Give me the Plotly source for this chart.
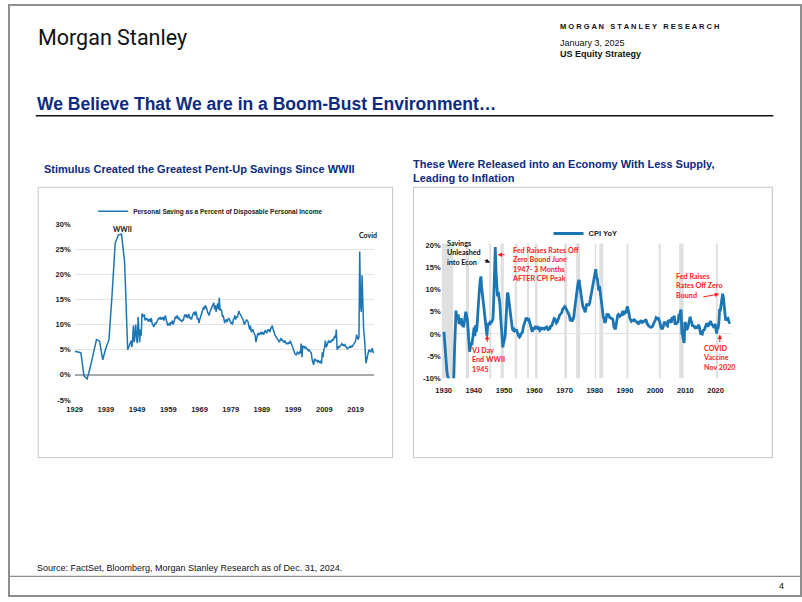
import pandas as pd
import plotly.graph_objects as go

# ---------------- data ----------------
saving_annual_years = list(range(1929, 1947))
saving_annual = [4.7, 4.5, 4.4, -0.2, -0.8, 1.5, 4.5, 7.0, 6.7, 3.0, 5.3, 7.0,
                 16.0, 26.2, 27.8, 28.0, 22.5, 5.0]

saving_q_start = "1947-02-01"
saving_quarterly = [
    6.8, 5.5, 7.0, 9.8,    # 1947
    6.5, 8.5, 10.0, 7.0,   # 1948
    6.3, 11.5, 7.5, 6.5,   # 1949
    9.0, 7.8, 12.2, 11.5,  # 1950
    11.8, 12.0, 10.8, 11.3,
    10.9, 11.2, 10.6, 11.0,
    11.1, 10.5, 11.3, 10.2,
    10.0, 9.5, 9.8, 10.3,
    10.2, 10.6, 10.8, 11.2,  # 1955
    11.3, 11.0, 11.5, 11.0,
    11.2, 11.5, 10.8, 11.6,
    11.8, 11.0, 10.5, 9.8,
    10.0, 10.3, 9.8, 10.5,
    10.2, 10.8, 10.0, 10.4,  # 1960
    11.0, 11.6, 11.2, 11.8,
    11.5, 11.0, 11.3, 10.8,
    10.8, 10.5, 11.0, 10.8,
    11.6, 12.0, 11.5, 12.0,
    11.3, 11.8, 12.1, 11.2,  # 1965
    11.5, 11.0, 11.3, 12.0,
    12.2, 12.5, 11.8, 12.6,
    12.0, 11.0, 11.3, 10.3,
    11.0, 11.5, 12.0, 12.3,
    12.8, 13.5, 13.0, 13.8,  # 1970
    13.5, 13.2, 12.5, 12.0,
    11.8, 12.5, 13.0, 13.2,
    13.5, 14.0, 14.3, 13.0,
    13.8, 12.5, 13.5, 14.2,
    13.0, 15.3, 12.8, 13.0,  # 1975
    12.8, 11.5, 11.8, 11.0,
    10.3, 10.8, 11.0, 10.5,
    10.8, 11.3, 11.0, 10.4,
    10.2, 10.5, 10.0, 11.0,
    11.2, 11.8, 11.0, 11.5,  # 1980
    11.5, 11.8, 12.7, 12.3,
    12.0, 11.8, 11.5, 11.0,
    10.8, 10.0, 10.2, 10.6,
    11.0, 10.8, 10.5, 9.6,
    9.0, 9.8, 8.5, 8.8,      # 1985
    9.0, 8.5, 8.0, 7.8,
    6.5, 7.5, 8.0, 8.3,
    8.0, 8.2, 8.5, 8.0,
    8.5, 8.2, 8.0, 8.6,
    8.8, 8.5, 8.3, 9.0,      # 1990
    8.8, 9.0, 8.5, 9.2,
    9.5, 9.8, 9.0, 8.7,
    8.0, 7.8, 7.4, 7.2,
    7.0, 6.8, 6.5, 7.0,
    7.3, 6.8, 7.0, 6.6,      # 1995
    6.5, 6.8, 6.4, 6.2,
    6.3, 6.1, 6.5, 6.2,
    6.8, 6.3, 5.8, 5.5,
    5.0, 4.5, 4.2, 4.0,
    4.0, 4.5, 4.3, 4.2,      # 2000
    4.5, 4.3, 6.2, 3.5,
    5.8, 5.5, 5.6, 5.3,
    5.5, 5.2, 5.0, 4.8,
    5.0, 4.8, 4.6, 4.3,
    3.0, 2.5, 2.0, 3.2,      # 2005
    3.0, 2.8, 2.9, 2.6,
    2.8, 2.5, 2.4, 2.8,
    2.2, 4.5, 3.5, 5.0,
    5.5, 6.8, 5.5, 5.8,
    6.3, 6.8, 6.5, 6.7,      # 2010
    6.5, 6.8, 7.0, 6.8,
    7.5, 7.8, 7.3, 9.0,
    5.0, 5.4, 5.6, 5.5,
    5.8, 6.0, 6.2, 5.9,
    6.0, 5.8, 6.0, 5.7,      # 2015
    5.5, 5.2, 5.3, 5.6,
    5.6, 5.4, 5.8, 5.5,
    5.9, 6.0, 6.3, 6.5,
    7.0, 8.0, 7.3, 7.0,
    7.5, 24.5, 14.0, 12.5,   # 2020
    19.8, 11.0, 9.0, 7.5,
    5.0, 2.3, 3.0, 3.5,
    4.5, 5.0, 4.7, 4.5,
    4.8, 5.3, 4.6, 4.3,      # 2024
]

cpi_q_start = "1930-02-01"
cpi_yoy = [
    0.5, -2.0, -4.5, -6.5,      # 1930
    -8.5, -9.5, -10.5, -10.5,
    -10.5, -10.5, -10.5, -10.5,
    -10.5, -10.5, -4.0, 1.0,
    5.3, 3.3, 3.8, 4.4,
    2.2, 3.5, 2.5, 3.6,         # 1935
    1.8, 2.6, 1.5, 3.0,
    3.7, 5.0, 4.2, 3.3,
    1.0, -1.5, -4.0, -3.0,
    -2.0, -2.5, -1.0, 0.5,
    1.5, -0.5, 2.0, 0.5,        # 1940
    2.0, 5.0, 8.5, 10.0,
    12.0, 13.0, 10.5, 9.0,
    8.0, 7.0, 5.0, 3.5,
    2.0, -0.4, 2.0, 2.5,
    2.5, 2.0, 3.0, 2.5,         # 1945
    3.0, 3.5, 8.0, 17.0,
    19.6, 14.0, 9.3, 8.5,
    9.5, 8.5, 7.0, 4.0,
    1.0, -1.0, -3.0, -2.0,
    -1.0, -0.5, 2.5, 7.0,       # 1950
    9.3, 9.0, 7.5, 6.5,
    4.3, 2.5, 2.0, 1.0,
    0.8, 1.0, 0.7, 0.8,
    1.0, 0.5, -0.3, -0.5,
    -0.7, -0.5, 0.0, 0.4,       # 1955
    0.4, 1.5, 2.0, 2.9,
    3.5, 3.7, 3.4, 3.0,
    3.6, 3.0, 2.2, 2.0,
    1.0, 0.5, 1.0, 1.5,
    1.0, 1.8, 1.5, 1.4,         # 1960
    1.5, 1.0, 1.2, 0.8,
    1.0, 1.3, 1.2, 1.3,
    1.2, 1.1, 1.4, 1.6,
    1.6, 1.2, 1.0, 1.2,
    1.0, 1.7, 1.8, 1.9,         # 1965
    2.5, 2.9, 3.5, 3.4,
    3.0, 2.5, 2.7, 3.0,
    3.6, 4.2, 4.4, 4.6,
    4.8, 5.5, 5.7, 6.0,
    6.2, 6.0, 5.6, 5.6,         # 1970
    5.0, 4.4, 4.2, 3.3,
    3.4, 3.0, 3.0, 3.3,
    3.9, 5.5, 7.2, 8.4,
    10.0, 10.7, 11.8, 12.2,
    10.8, 9.3, 8.0, 7.2,        # 1975
    6.2, 5.9, 5.5, 4.9,
    5.6, 6.8, 6.6, 6.6,
    6.6, 7.0, 8.0, 8.9,
    9.8, 10.8, 12.0, 13.0,
    14.0, 14.6, 13.0, 12.5,     # 1980
    11.2, 9.8, 10.8, 9.2,
    7.5, 6.8, 5.5, 3.8,
    3.5, 2.5, 2.8, 3.8,
    4.6, 4.2, 4.3, 4.0,
    3.5, 3.8, 3.3, 3.6,         # 1985
    3.0, 1.6, 1.2, 1.1,
    2.0, 3.7, 4.2, 4.4,
    4.0, 4.0, 4.2, 4.3,
    4.8, 5.2, 4.5, 4.6,
    5.2, 4.7, 5.7, 6.2,         # 1990
    5.3, 4.8, 3.6, 3.0,
    2.9, 3.1, 3.0, 3.0,
    3.2, 3.0, 2.8, 2.8,
    2.5, 2.4, 2.9, 2.6,
    2.8, 3.1, 2.6, 2.6,         # 1995
    2.8, 2.9, 2.9, 3.3,
    3.0, 2.3, 2.2, 1.8,
    1.6, 1.6, 1.5, 1.6,
    1.7, 2.1, 2.4, 2.7,
    3.2, 3.7, 3.5, 3.4,         # 2000
    3.5, 3.2, 2.6, 1.6,
    1.3, 1.1, 1.5, 2.3,
    2.8, 2.1, 2.3, 1.9,
    1.8, 3.1, 2.7, 3.3,
    3.0, 2.5, 3.8, 3.4,         # 2005
    3.6, 4.1, 2.1, 2.5,
    2.4, 2.7, 2.8, 4.1,
    4.0, 5.0, 5.5, 0.1,
    -0.2, -1.3, -2.0, 2.7,
    2.3, 1.1, 1.1, 1.5,         # 2010
    2.7, 3.6, 3.9, 3.0,
    2.7, 1.7, 2.0, 1.7,
    1.5, 1.8, 1.2, 1.5,
    1.5, 2.1, 1.7, 0.8,
    -0.1, 0.1, 0.0, 0.7,        # 2015
    0.9, 1.0, 1.5, 2.1,
    2.4, 1.6, 2.2, 2.1,
    2.4, 2.9, 2.3, 1.9,
    1.9, 1.6, 1.7, 2.3,
    1.5, 0.1, 1.4, 1.4,         # 2020
    2.6, 5.4, 5.4, 7.0,
    8.5, 9.1, 8.2, 6.5,
    5.0, 3.0, 3.7, 3.4,
    3.5, 3.0, 2.4, 2.7,         # 2024
]

recession_start = ["1929-05-01", "1937-05-01", "1945-02-01", "1948-11-01", "1953-07-01",
                   "1957-08-01", "1960-04-01", "1969-12-01", "1973-11-01", "1980-01-01",
                   "1981-07-01", "1990-07-01", "2001-03-01", "2007-12-01", "2020-02-01"]
recession_end = ["1933-03-01", "1938-06-01", "1945-10-01", "1949-12-01", "1954-05-01",
                 "1958-04-01", "1961-02-01", "1970-11-01", "1975-03-01", "1980-07-01",
                 "1982-11-01", "1991-03-01", "2001-11-01", "2009-06-01", "2020-10-01"]

saving_tick_years = [1929, 1939, 1949, 1959, 1969, 1979, 1989, 1999, 2009, 2019]
cpi_tick_years = [1930, 1940, 1950, 1960, 1970, 1980, 1990, 2000, 2010, 2020]
saving_y_ticks = [-5, 0, 5, 10, 15, 20, 25, 30]
cpi_y_ticks = [-10, -5, 0, 5, 10, 15, 20]

# ---------------- helpers ----------------
W, H = 802, 602
def px(x):
    return x / W
def py(y):
    return 1 - y / H

NAVY = "#0c2b82"
BLUE = "#1c76b4"
RED = "#ff1a1a"
ARIAL = "Liberation Sans, Arial, sans-serif"
CAL = "Lato, Liberation Sans, sans-serif"

saving_dates = [f"{y}-01-01" for y in saving_annual_years] + \
    list(pd.date_range(saving_q_start, periods=len(saving_quarterly), freq="3MS").strftime("%Y-%m-%d"))
saving_values = saving_annual + saving_quarterly
cpi_dates = list(pd.date_range(cpi_q_start, periods=len(cpi_yoy), freq="3MS").strftime("%Y-%m-%d"))

fig = go.Figure()
fig.add_trace(go.Scatter(
    x=saving_dates, y=saving_values, mode="lines",
    name="Personal Saving as a Percent of Disposable Personal Income",
    line=dict(color=BLUE, width=1.5), xaxis="x", yaxis="y", legend="legend"))
fig.add_trace(go.Scatter(
    x=cpi_dates, y=cpi_yoy, mode="lines", name="CPI YoY",
    line=dict(color=BLUE, width=2.8), xaxis="x2", yaxis="y2", legend="legend2"))

tickfont = dict(family=ARIAL, size=7.5, color="#222", weight="bold")

fig.update_layout(
    width=W, height=H, margin=dict(l=0, r=0, t=0, b=0),
    paper_bgcolor="white", plot_bgcolor="rgba(0,0,0,0)",
    showlegend=True,
    xaxis=dict(domain=[px(67.3), px(370)], type="date",
               range=["1929-01-01", "2025-01-01"],
               tickmode="array", tickvals=[f"{y}-01-01" for y in saving_tick_years],
               ticktext=[str(y) for y in saving_tick_years],
               showgrid=False, zeroline=False, showline=False, ticks="",
               tickfont=tickfont, anchor="y", ticklabelstandoff=4),
    yaxis=dict(domain=[py(402), py(223.3)], range=[-5, 30],
               tickmode="array", tickvals=saving_y_ticks,
               ticktext=[f"{v}%" for v in saving_y_ticks],
               showgrid=True, gridcolor="#e3e3e3", gridwidth=1,
               zeroline=True, zerolinecolor="#a9a9a9", zerolinewidth=2.2,
               showline=False, ticks="", tickfont=tickfont, anchor="x", ticklabelstandoff=3),
    xaxis2=dict(domain=[px(438), px(730)], type="date",
                range=["1929-05-01", "2025-01-01"],
                tickmode="array", tickvals=[f"{y}-01-01" for y in cpi_tick_years],
                ticktext=[str(y) for y in cpi_tick_years],
                showgrid=False, zeroline=False, showline=False, ticks="",
                tickfont=tickfont, anchor="y2", ticklabelstandoff=6),
    yaxis2=dict(domain=[py(380), py(243.2)], range=[-10, 20.4],
                tickmode="array", tickvals=cpi_y_ticks,
                ticktext=[f"{v}%" for v in cpi_y_ticks],
                showgrid=False, zeroline=True, zerolinecolor="#e2e2e2", zerolinewidth=1,
                showline=False, ticks="", tickfont=tickfont, anchor="x2"),
    legend=dict(x=px(86), y=py(210.5), xanchor="left", yanchor="middle",
                bgcolor="rgba(0,0,0,0)", borderwidth=0,
                font=dict(family=ARIAL, size=6.5, color="#222", weight="bold")),
    legend2=dict(x=px(546), y=py(233), xanchor="left", yanchor="middle",
                 bgcolor="rgba(0,0,0,0)", borderwidth=0,
                 font=dict(family=ARIAL, size=7.5, color="#222", weight="bold")),
)

shapes = []
# recession shading
for s, e in zip(recession_start, recession_end):
    shapes.append(dict(type="rect", xref="x2", yref="y2 domain", x0=s, x1=e, y0=0, y1=1,
                       fillcolor="#e0e0e0", line=dict(width=0), layer="below"))
# frames and rules
shapes += [
    dict(type="rect", xref="paper", yref="paper", x0=px(1), x1=px(801), y0=py(601), y1=py(1),
         line=dict(color="#8f8f8f", width=2)),
    dict(type="line", xref="paper", yref="paper", x0=px(28), x1=px(773), y0=py(113.5), y1=py(113.5),
         line=dict(color="#111", width=1.6)),
    dict(type="rect", xref="paper", yref="paper", x0=px(30.5), x1=px(388.5), y0=py(460.5), y1=py(186),
         line=dict(color="#c4c4c4", width=1)),
    dict(type="rect", xref="paper", yref="paper", x0=px(409.5), x1=px(772), y0=py(460.5), y1=py(186),
         line=dict(color="#c4c4c4", width=1)),
    dict(type="line", xref="paper", yref="paper", x0=0, x1=1, y0=py(581), y1=py(581),
         line=dict(color="#8f8f8f", width=1.2)),
]
fig.update_layout(shapes=shapes)

ann = []
def text(x, y, t, size, color="#111", family=ARIAL, weight="normal", xanchor="left", align="left"):
    ann.append(dict(x=px(x), y=py(y), xref="paper", yref="paper", text=t, showarrow=False,
                    xanchor=xanchor, yanchor="middle", align=align,
                    font=dict(family=family, size=size, color=color, weight=weight)))

def arrow(hx, hy, tx, ty, color):
    ann.append(dict(x=px(hx), y=py(hy), xref="paper", yref="paper", text="",
                    showarrow=True, ax=tx - hx, ay=ty - hy, axref="pixel", ayref="pixel",
                    arrowhead=2, arrowsize=0.9, arrowwidth=1, arrowcolor=color, standoff=0, startstandoff=0))

# header
text(28, 34, "Morgan Stanley", 21.5, color="#111", family="Roboto, Liberation Sans, sans-serif", weight=400)
text(556, 23, "M O R G A N\u00a0\u00a0 S T A N L E Y\u00a0\u00a0 R E S E A R C H", 7.5, color="#111", weight="bold")
text(556, 40, "January 3, 2025", 9, color="#111")
text(556, 50.5, "US Equity Strategy", 9, color="#111", weight="bold")
text(27, 102, "We Believe That We are in a Boom-Bust Environment\u2026", 17.5, color=NAVY, weight="bold")
text(34, 167.5, "Stimulus Created the Greatest Pent-Up Savings Since WWII", 11, color=NAVY, weight="bold")
text(407, 169.5, "These Were Released into an Economy With Less Supply,<br>Leading to Inflation", 11,
     color=NAVY, weight="bold")
text(27, 573, "Source: FactSet, Bloomberg, Morgan Stanley Research as of Dec. 31, 2024.", 9, color="#111")
text(781, 591, "4", 9, color="#111", xanchor="center")

# left chart labels
text(115.5, 228, "WWII", 7, color="#111", family=CAL, weight="bold", xanchor="center")
text(364, 234, "Covid", 7, color="#111", family=CAL, weight="bold", xanchor="center")

# right chart labels
text(441, 253, "Savings<br>Unleashed<br>into Econ", 7.2, color="#111", family=CAL, weight="bold")
text(507, 264.5, "Fed Raises Rates Off<br>Zero Bound June<br>1947- 3 Months<br>AFTER CPI Peak", 7.2,
     color=RED, family=CAL, weight="bold")
text(466, 361, "VJ Day<br>End WWII<br>1945", 7.2, color=RED, family=CAL, weight="bold")
text(673, 286, "Fed Raises<br>Rates Off Zero<br>Bound", 7.2, color=RED, family=CAL, weight="bold")
text(700, 359.5, "COVID<br>Vaccine<br>Nov 2020", 7.2, color=RED, family=CAL, weight="bold")

arrow(487, 262.5, 480, 259.5, "#111")
arrow(494.5, 254.5, 503, 254.5, RED)
arrow(484, 336, 484, 344.5, RED)
arrow(718.5, 294.5, 701, 297.5, RED)
arrow(719, 335.5, 719, 344.5, RED)

fig.update_layout(annotations=ann)
fig.write_html("out.html")
